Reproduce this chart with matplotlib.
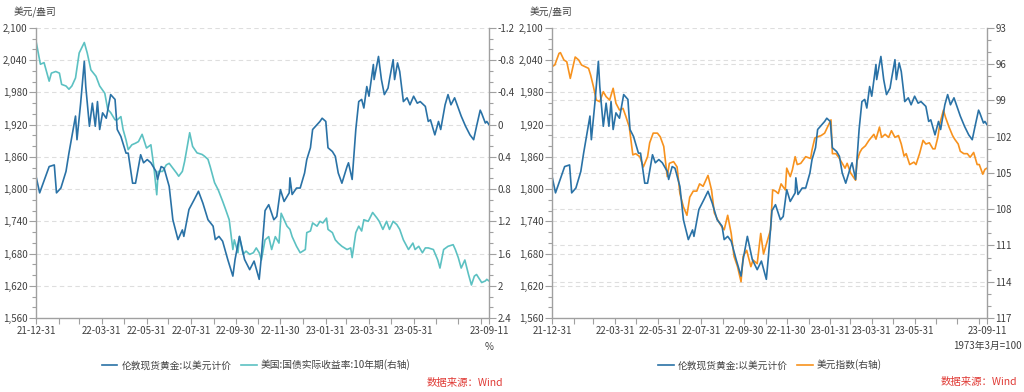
import pandas as pd
import matplotlib
matplotlib.use("Agg")
import matplotlib.pyplot as plt
import matplotlib.transforms as mtransforms
from matplotlib.ticker import FuncFormatter, MultipleLocator

plt.rcParams['font.family'] = ['Noto Sans CJK SC', 'DejaVu Sans']

# London spot gold, USD/oz
gold_dates = [
    "2021-12-31",
    "2022-01-05", "2022-01-18", "2022-01-25", "2022-01-28",
    "2022-02-03", "2022-02-10", "2022-02-14", "2022-02-23", "2022-02-25",
    "2022-03-02", "2022-03-07", "2022-03-09", "2022-03-14", "2022-03-18", "2022-03-22", "2022-03-25", "2022-03-28",
    "2022-04-01", "2022-04-06", "2022-04-12", "2022-04-18", "2022-04-21", "2022-04-26",
    "2022-05-03", "2022-05-06", "2022-05-12", "2022-05-16", "2022-05-23", "2022-05-27",
    "2022-06-01", "2022-06-06", "2022-06-13", "2022-06-15", "2022-06-20", "2022-06-24",
    "2022-07-01", "2022-07-06", "2022-07-13", "2022-07-19", "2022-07-21", "2022-07-28",
    "2022-08-04", "2022-08-10", "2022-08-16", "2022-08-23", "2022-08-30",
    "2022-09-02", "2022-09-07", "2022-09-12", "2022-09-19", "2022-09-26", "2022-09-29",
    "2022-10-05", "2022-10-12", "2022-10-19", "2022-10-25",
    "2022-11-01", "2022-11-04", "2022-11-09", "2022-11-14", "2022-11-21", "2022-11-25", "2022-11-30",
    "2022-12-05", "2022-12-12", "2022-12-13", "2022-12-16", "2022-12-22", "2022-12-27",
    "2023-01-02", "2023-01-05", "2023-01-10", "2023-01-13", "2023-01-19", "2023-01-23", "2023-01-26", "2023-01-31",
    "2023-02-03", "2023-02-09", "2023-02-13", "2023-02-17", "2023-02-22",
    "2023-03-01", "2023-03-03", "2023-03-08", "2023-03-13", "2023-03-17", "2023-03-21", "2023-03-24", "2023-03-28", "2023-03-31",
    "2023-04-06", "2023-04-07", "2023-04-13", "2023-04-17", "2023-04-21", "2023-04-26", "2023-04-28",
    "2023-05-03", "2023-05-05", "2023-05-09", "2023-05-12", "2023-05-17", "2023-05-22", "2023-05-26", "2023-05-31",
    "2023-06-05", "2023-06-09", "2023-06-16", "2023-06-20", "2023-06-23", "2023-06-29",
    "2023-07-04", "2023-07-07", "2023-07-13", "2023-07-17", "2023-07-21", "2023-07-26", "2023-07-31",
    "2023-08-04", "2023-08-10", "2023-08-16", "2023-08-21", "2023-08-25", "2023-08-30",
    "2023-09-01", "2023-09-06", "2023-09-08", "2023-09-11",
]
gold_values = [
    1824,
    1793, 1842, 1845, 1793,
    1802, 1833, 1867, 1936, 1892,
    1960, 2038, 1991, 1917, 1960, 1917, 1963, 1911,
    1942, 1932, 1976, 1967, 1911, 1898,
    1867, 1867, 1811, 1811, 1864, 1849,
    1855, 1849, 1833, 1818, 1842, 1839,
    1805, 1743, 1706, 1724, 1712, 1762,
    1780, 1796, 1774, 1743, 1731,
    1706, 1712, 1703, 1669, 1638, 1669,
    1712, 1669, 1650, 1666,
    1632, 1675, 1760, 1771, 1743, 1749, 1799,
    1777, 1793, 1821, 1790, 1802, 1802,
    1830, 1855, 1877, 1911, 1920, 1926, 1932, 1926,
    1877, 1870, 1861, 1830, 1811,
    1842, 1849, 1818, 1911, 1963, 1967, 1951, 1991, 1973,
    2032, 2004, 2047, 2004, 1976, 1988, 2004,
    2041, 2004, 2035, 2019, 1963, 1970, 1957, 1973,
    1960, 1963, 1954, 1926, 1929, 1901,
    1926, 1911, 1957, 1976, 1957, 1970, 1951,
    1936, 1917, 1901, 1892, 1917, 1947,
    1941, 1923, 1926, 1920,
]

# US 10y TIPS real yield, %
ry_dates = [
    "2021-12-31",
    "2022-01-06", "2022-01-11", "2022-01-18", "2022-01-21", "2022-01-27",
    "2022-02-01", "2022-02-04", "2022-02-10", "2022-02-14", "2022-02-18", "2022-02-23", "2022-02-28",
    "2022-03-07", "2022-03-11", "2022-03-16", "2022-03-23", "2022-03-28",
    "2022-04-04", "2022-04-08", "2022-04-12", "2022-04-18", "2022-04-21", "2022-04-26", "2022-04-29",
    "2022-05-03", "2022-05-06", "2022-05-11", "2022-05-16", "2022-05-20", "2022-05-25", "2022-05-31",
    "2022-06-06", "2022-06-10", "2022-06-14", "2022-06-16", "2022-06-22", "2022-06-27",
    "2022-07-01", "2022-07-06", "2022-07-11", "2022-07-14", "2022-07-19", "2022-07-22", "2022-07-29",
    "2022-08-02", "2022-08-08", "2022-08-15", "2022-08-18", "2022-08-23", "2022-08-26",
    "2022-09-01", "2022-09-06", "2022-09-12", "2022-09-16", "2022-09-21", "2022-09-26", "2022-09-28",
    "2022-10-03", "2022-10-05", "2022-10-10", "2022-10-14", "2022-10-19", "2022-10-24", "2022-10-28",
    "2022-11-01", "2022-11-04", "2022-11-09", "2022-11-14", "2022-11-18", "2022-11-23", "2022-11-28",
    "2022-12-01", "2022-12-05", "2022-12-09", "2022-12-13", "2022-12-16", "2022-12-22", "2022-12-27",
    "2023-01-03", "2023-01-05", "2023-01-10", "2023-01-13", "2023-01-19", "2023-01-23", "2023-01-27",
    "2023-02-01", "2023-02-03", "2023-02-09", "2023-02-13", "2023-02-17", "2023-02-22",
    "2023-03-01", "2023-03-06", "2023-03-08", "2023-03-13", "2023-03-17", "2023-03-21", "2023-03-24", "2023-03-30",
    "2023-04-05", "2023-04-11", "2023-04-14", "2023-04-19", "2023-04-24", "2023-04-28",
    "2023-05-03", "2023-05-08", "2023-05-12", "2023-05-17", "2023-05-24", "2023-05-30",
    "2023-06-02", "2023-06-07", "2023-06-12", "2023-06-16", "2023-06-20", "2023-06-27",
    "2023-07-03", "2023-07-06", "2023-07-11", "2023-07-17", "2023-07-24", "2023-07-27", "2023-07-31",
    "2023-08-04", "2023-08-09", "2023-08-14", "2023-08-18", "2023-08-22", "2023-08-25",
    "2023-09-01", "2023-09-06", "2023-09-08", "2023-09-11",
]
ry_values = [
    -1.04,
    -0.75, -0.77, -0.54, -0.64, -0.66,
    -0.64, -0.50, -0.48, -0.44, -0.48, -0.58, -0.89,
    -1.02, -0.89, -0.68, -0.60, -0.48,
    -0.39, -0.19, -0.15, -0.06, -0.06, -0.10, 0.06,
    0.19, 0.31, 0.25, 0.23, 0.21, 0.12, 0.29,
    0.25, 0.52, 0.87, 0.58, 0.58, 0.50,
    0.48, 0.54, 0.60, 0.64, 0.58, 0.46, 0.10,
    0.27, 0.35, 0.37, 0.39, 0.43, 0.52,
    0.72, 0.81, 0.95, 1.05, 1.18, 1.55, 1.43,
    1.59, 1.39, 1.61, 1.57, 1.61, 1.59, 1.53,
    1.59, 1.68, 1.43, 1.39, 1.55, 1.39, 1.47,
    1.10, 1.18, 1.26, 1.30, 1.39, 1.51, 1.59,
    1.55, 1.34, 1.32, 1.22, 1.26, 1.20, 1.22,
    1.16, 1.30, 1.34, 1.43, 1.47, 1.51,
    1.55, 1.53, 1.65, 1.34, 1.26, 1.32, 1.18, 1.20,
    1.09, 1.16, 1.20, 1.30, 1.20, 1.30,
    1.20, 1.24, 1.30, 1.43, 1.55, 1.47,
    1.55, 1.51, 1.59, 1.53, 1.53, 1.55,
    1.68, 1.78, 1.55, 1.51, 1.49, 1.55, 1.65,
    1.78, 1.68, 1.86, 1.99, 1.88, 1.86,
    1.96, 1.94, 1.92, 1.94,
]

# US dollar index (1973-03 = 100)
usd_dates = [
    "2021-12-31",
    "2022-01-04", "2022-01-10", "2022-01-12", "2022-01-17", "2022-01-21", "2022-01-26",
    "2022-02-02", "2022-02-07", "2022-02-11", "2022-02-16", "2022-02-21", "2022-02-24", "2022-02-28",
    "2022-03-04", "2022-03-09", "2022-03-14", "2022-03-18", "2022-03-23", "2022-03-28",
    "2022-04-01", "2022-04-06", "2022-04-11", "2022-04-15", "2022-04-20", "2022-04-25", "2022-04-29",
    "2022-05-05", "2022-05-10", "2022-05-16", "2022-05-19", "2022-05-24", "2022-05-30",
    "2022-06-03", "2022-06-08", "2022-06-13", "2022-06-16", "2022-06-22", "2022-06-27",
    "2022-07-01", "2022-07-06", "2022-07-11", "2022-07-15", "2022-07-20", "2022-07-25", "2022-07-29",
    "2022-08-03", "2022-08-10", "2022-08-15", "2022-08-19", "2022-08-24", "2022-08-29",
    "2022-09-02", "2022-09-07", "2022-09-12", "2022-09-16", "2022-09-21", "2022-09-26", "2022-09-29",
    "2022-10-04", "2022-10-10", "2022-10-13", "2022-10-19", "2022-10-24", "2022-10-28",
    "2022-11-03", "2022-11-07", "2022-11-10", "2022-11-14", "2022-11-18", "2022-11-22", "2022-11-28", "2022-11-30",
    "2022-12-05", "2022-12-08", "2022-12-12", "2022-12-15", "2022-12-20", "2022-12-27",
    "2023-01-03", "2023-01-05", "2023-01-09", "2023-01-13", "2023-01-18", "2023-01-23", "2023-01-27",
    "2023-02-01", "2023-02-03", "2023-02-08", "2023-02-13", "2023-02-17", "2023-02-21", "2023-02-24",
    "2023-03-01", "2023-03-08", "2023-03-10", "2023-03-14", "2023-03-17", "2023-03-22", "2023-03-27",
    "2023-04-03", "2023-04-06", "2023-04-11", "2023-04-14", "2023-04-19", "2023-04-24", "2023-04-28",
    "2023-05-03", "2023-05-08", "2023-05-12", "2023-05-16", "2023-05-19", "2023-05-24", "2023-05-30",
    "2023-06-02", "2023-06-07", "2023-06-12", "2023-06-16", "2023-06-21", "2023-06-26", "2023-06-29",
    "2023-07-03", "2023-07-06", "2023-07-11", "2023-07-14", "2023-07-19", "2023-07-24", "2023-07-27",
    "2023-08-01", "2023-08-04", "2023-08-09", "2023-08-14", "2023-08-18", "2023-08-23", "2023-08-28", "2023-08-31",
    "2023-09-05", "2023-09-08", "2023-09-11",
]
usd_values = [
    96.2,
    96.06, 95.1, 95.04, 95.65, 95.79, 97.17,
    95.4, 95.65, 96.06, 96.2, 96.34, 96.9, 97.86,
    98.96, 99.1, 98.27, 98.68, 98.96, 97.99,
    99.23, 99.79, 99.65, 100.3, 101.2, 103.5, 103.4,
    103.65, 104.5, 103.65, 102.5, 101.7, 101.7,
    102.0, 102.8, 105.3, 104.2, 104.06, 104.5,
    106.7, 107.8, 108.5, 107.0, 106.5, 106.5, 105.9,
    106.1, 105.2, 106.4, 108.3, 108.9, 109.4,
    109.7, 108.5, 110.0, 111.9, 112.75, 114.0, 111.9,
    111.4, 112.75, 112.2, 112.5, 110.0, 111.7,
    110.5, 109.7, 106.4, 106.5, 106.7, 105.9, 106.4, 104.6,
    105.3, 104.75, 103.65, 104.3, 104.2, 103.65,
    103.8, 103.1, 102.1, 102.0, 101.9, 101.7, 101.2,
    100.6, 103.4, 103.4, 103.8, 104.2, 104.6, 104.2,
    105.0, 105.6, 104.0, 103.3, 103.0, 102.75, 102.3,
    101.8, 102.2, 101.2, 102.05, 101.8, 102.05, 101.5,
    102.05, 101.9, 102.6, 103.6, 103.4, 104.3, 104.1,
    104.3, 103.4, 102.3, 102.6, 102.5, 103.0, 103.0,
    102.05, 100.9, 99.8, 100.4, 101.2, 101.9, 102.2,
    102.6, 103.2, 103.4, 103.4, 103.7, 103.3, 104.3, 104.3,
    105.1, 104.7, 104.6,
]

x_start, x_end = "2021-12-31", "2023-09-11"
labelled_ticks = ["2021-12-31", "2022-03-31", "2022-05-31", "2022-07-31", "2022-09-30",
                  "2022-11-30", "2023-01-31", "2023-03-31", "2023-05-31", "2023-09-11"]

gold_ticks = list(range(1560, 2101, 60))
ry_ticks = [-1.2, -0.8, -0.4, 0, 0.4, 0.8, 1.2, 1.6, 2, 2.4]
usd_ticks = list(range(93, 118, 3))

gold_name = "伦敦现货黄金:以美元计价"
ry_name = "美国:国债实际收益率:10年期(右轴)"
usd_name = "美元指数(右轴)"

C_GOLD = "#2a72a6"
C_RY = "#5cc1c2"
C_USD = "#f7921e"
C_AX = "#a0a0a0"
C_TXT = "#404040"
C_GRID = "#dedede"
FS = 7

W, H = 1024, 392
fig = plt.figure(figsize=(W / 100, H / 100), dpi=100)


def month_ticks():
    ends = pd.date_range(x_start, x_end, freq="ME")
    ticks = ends.append(pd.DatetimeIndex([pd.Timestamp(x_end)]))
    keep = set(pd.to_datetime(labelled_ticks))
    labels = [t.strftime("%y-%m-%d") if t in keep else "" for t in ticks]
    return ticks, labels


def panel(x0, x1, sec_dates, sec_values, sec_color, sec_ticks, sec_lim, sec_fmt, sec_grid):
    ax = fig.add_axes([x0 / W, 74 / H, (x1 - x0) / W, 290 / H])
    ax2 = ax.twinx()
    ax.set_zorder(2)
    ax2.set_zorder(1)
    ax.patch.set_visible(False)

    ax.plot(pd.to_datetime(gold_dates), gold_values, color=C_GOLD, lw=1.2)
    ax2.plot(pd.to_datetime(sec_dates), sec_values, color=sec_color, lw=1.2)

    ax.set_xlim(pd.Timestamp(x_start), pd.Timestamp(x_end))
    ax.set_ylim(1560, 2100)
    ax.set_yticks(gold_ticks)
    ax.yaxis.set_minor_locator(MultipleLocator(20))
    ax.yaxis.set_major_formatter(FuncFormatter(lambda v, p: f"{v:,.0f}"))
    ax2.set_ylim(*sec_lim)
    ax2.set_yticks(sec_ticks)
    ax2.yaxis.set_minor_locator(MultipleLocator((sec_ticks[1] - sec_ticks[0]) / 3))
    ax2.yaxis.set_major_formatter(FuncFormatter(sec_fmt))

    ticks, labels = month_ticks()
    ax.set_xticks(ticks)
    ax.set_xticklabels(labels)

    # gridlines drawn in the back axes so both lines stay on top
    tr = mtransforms.blended_transform_factory(ax2.transAxes, ax.transData)
    for v in gold_ticks[1:]:
        ax2.plot([0, 1], [v, v], transform=tr, color=C_GRID, lw=0.8, ls=(0, (4, 3)), zorder=0)
    if sec_grid:
        for v in sec_ticks[1:-1]:
            ax2.axhline(v, color=C_GRID, lw=0.8, ls=(0, (4, 3)), zorder=0)

    for a in (ax, ax2):
        for s in a.spines.values():
            s.set_visible(False)
        a.tick_params(which="both", colors=C_AX, labelcolor=C_TXT, labelsize=FS, width=0.8)
    ax.spines["left"].set_visible(True)
    ax.spines["bottom"].set_visible(True)
    ax2.spines["right"].set_visible(True)
    for s in (ax.spines["left"], ax.spines["bottom"], ax2.spines["right"]):
        s.set_color(C_AX)
        s.set_linewidth(1.0)
    ax.tick_params(axis="y", which="major", length=5, pad=1)
    ax.tick_params(axis="y", which="minor", length=3)
    ax.tick_params(axis="x", length=4, pad=2)
    ax2.tick_params(axis="y", which="major", length=5, pad=1)
    ax2.tick_params(axis="y", which="minor", length=3)
    return ax, ax2


def ry_fmt(v, p):
    return f"{v:g}" if abs(v) > 1e-9 else "0"


ax_l, ax_l2 = panel(36, 489, ry_dates, ry_values, C_RY, ry_ticks, (2.4, -1.2), ry_fmt, False)
ax_r, ax_r2 = panel(552, 987, usd_dates, usd_values, C_USD, usd_ticks, (117, 93),
                    lambda v, p: f"{v:.0f}", True)

# unit labels
fig.text(35 / W, 1 - 12 / H, "美元/盎司", fontsize=FS, color=C_TXT, ha="center", va="center")
fig.text(551 / W, 1 - 12 / H, "美元/盎司", fontsize=FS, color=C_TXT, ha="center", va="center")
fig.text(489 / W, 1 - 347 / H, "%", fontsize=FS, color=C_TXT, ha="center", va="center")
fig.text(987 / W, 1 - 346 / H, "1973年3月=100", fontsize=FS, color=C_TXT, ha="center", va="center")

# legends
h1 = ax_l.get_lines()[0]
h2 = ax_l2.get_lines()[0]
fig.legend([h1, h2], [gold_name, ry_name], loc="center", bbox_to_anchor=(256 / W, 1 - 365 / H),
           ncol=2, frameon=False, fontsize=FS, handlelength=1.6, handletextpad=0.4,
           columnspacing=1.0, labelcolor=C_TXT)
h3 = ax_r.get_lines()[0]
h4 = ax_r2.get_lines()[0]
fig.legend([h3, h4], [gold_name, usd_name], loc="center", bbox_to_anchor=(770 / W, 1 - 365 / H),
           ncol=2, frameon=False, fontsize=FS, handlelength=1.6, handletextpad=0.4,
           columnspacing=1.0, labelcolor=C_TXT)

# source notes
fig.text(503 / W, 1 - 383 / H, "数据来源：Wind", fontsize=FS + 0.5, color="#e03a35", ha="right", va="center")
fig.text(1017 / W, 1 - 382 / H, "数据来源：Wind", fontsize=FS + 0.5, color="#e03a35", ha="right", va="center")

fig.savefig("out.png", dpi=100, facecolor="white")
